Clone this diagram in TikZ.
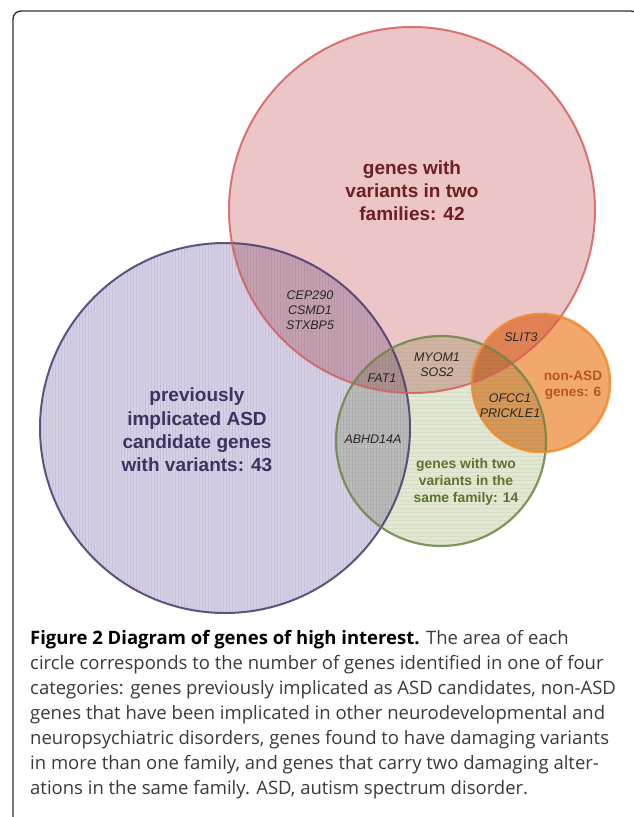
\documentclass[tikz,border=0pt]{standalone}
\usepackage{fontspec}
\newfontfamily\labfont{Liberation Sans}
\newfontfamily\capfont{Open Sans}
\definecolor{purfill}{HTML}{D5D0E5}
\definecolor{purline}{HTML}{463A6B}
\definecolor{redfill}{HTML}{ECC5C6}
\definecolor{redline}{HTML}{D4605E}
\definecolor{grnfill}{HTML}{E2E7D4}
\definecolor{grnline}{HTML}{6D8547}
\definecolor{orafill}{HTML}{F2A86B}
\definecolor{oraline}{HTML}{EE8A2F}
\definecolor{redtext}{HTML}{6E1F22}
\definecolor{purtext}{HTML}{3F3160}
\definecolor{grntext}{HTML}{5C7330}
\definecolor{oratext}{HTML}{B4581B}
\definecolor{captext}{HTML}{3A3A3A}
\tikzset{
  setlabel/.style={font=\labfont\bfseries, align=center, inner sep=0pt},
  gene/.style={font=\labfont\itshape\fontsize{12.5}{15}\selectfont, text=black!85, align=center, inner sep=0pt},
  capline/.style={font=\capfont\fontsize{18.5}{25}\selectfont, text=captext, anchor=base west, inner sep=0pt},
  texture/.style={line width=0.5pt, draw opacity=0.1},
}
\begin{document}
\begin{tikzpicture}[x=1pt,y=-1pt]
\useasboundingbox (0,0) rectangle (633,817);
\fill[white] (0,0) rectangle (633,817);
% frame
\draw[line width=1.4pt, black!80, rounded corners=8pt] (13,830) -- (13,11) -- (639,11) -- (639,830);
% circle fills
\fill[purfill, blend mode=multiply] (225,428) circle[radius=185pt];
\begin{scope}
  \clip (225,428) circle[radius=185pt];
  \foreach \i in {40,43,...,410} \draw[texture, purline] (\i,240) -- (\i,615);
\end{scope}
\fill[redfill, blend mode=multiply] (412,210) circle[radius=183pt];
\fill[grnfill, blend mode=multiply] (441,441) circle[radius=105pt];
\begin{scope}
  \clip (441,441) circle[radius=105pt];
  \foreach \i in {336,340,...,548} \draw[texture, grnline] (336,\i) -- (548,\i);
\end{scope}
\fill[orafill, blend mode=multiply] (541,383) circle[radius=69pt];
% circle outlines
\draw[purline, line width=2pt, draw opacity=0.85] (225,428) circle[radius=185pt];
\draw[redline, line width=2pt, draw opacity=0.85] (412,210) circle[radius=183pt];
\draw[grnline, line width=2.2pt, draw opacity=0.85] (441,441) circle[radius=105pt];
\draw[oraline, line width=2.5pt, draw opacity=0.85] (541,383) circle[radius=69pt];
% set labels
\node[setlabel, text=redtext, font=\labfont\bfseries\fontsize{19}{23}\selectfont] (redlab) at (412,191) {genes with\\variants in two\\families: 42};
\node[setlabel, text=purtext, font=\labfont\bfseries\fontsize{19}{23.3}\selectfont] (purlab) at (197,430) {previously\\implicated ASD\\candidate genes\\with variants: 43};
\node[setlabel, text=grntext, font=\labfont\bfseries\fontsize{13.9}{17}\selectfont] (grnlab) at (466,482) {genes with two\\variants in the\\same family: 14};
\node[setlabel, text=oratext, font=\labfont\bfseries\fontsize{13.6}{16}\selectfont] (oralab) at (573,385) {non-ASD\\genes: 6};
% gene names
\node[gene] (cep) at (310,310) {CEP290\\CSMD1\\STXBP5};
\node[gene] (fat) at (382,378) {FAT1};
\node[gene] (abhd) at (373,439) {ABHD14A};
\node[gene] (myom) at (437,365) {MYOM1\\SOS2};
\node[gene] (slit) at (521,337) {SLIT3};
\node[gene] (ofcc) at (510,406) {OFCC1\\PRICKLE1};
% caption
\node[capline] (c1) at (30,644) {\textbf{\color{black}Figure 2 Diagram of genes of high interest.} The area of each};
\node[capline] (c2) at (30,669) {circle corresponds to the number of genes identified in one of four};
\node[capline] (c3) at (30,694) {categories: genes previously implicated as ASD candidates, non-ASD};
\node[capline] (c4) at (30,719) {genes that have been implicated in other neurodevelopmental and};
\node[capline] (c5) at (30,744) {neuropsychiatric disorders, genes found to have damaging variants};
\node[capline] (c6) at (30,769) {in more than one family, and genes that carry two damaging alter-};
\node[capline] (c7) at (30,794) {ations in the same family. ASD, autism spectrum disorder.};
\end{tikzpicture}
\end{document}
